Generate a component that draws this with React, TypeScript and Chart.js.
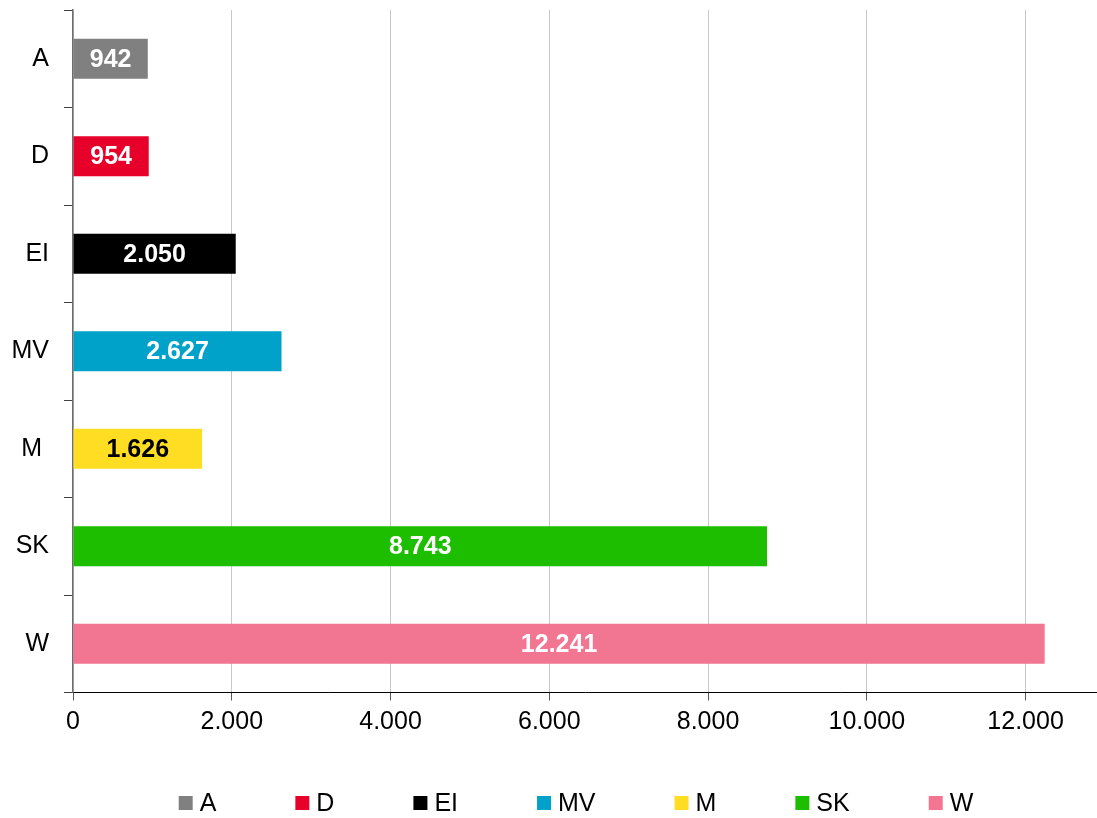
import React, { useEffect, useRef } from "react";
import { Chart, registerables } from "chart.js";

Chart.register(...registerables);

const categories = ["A", "D", "EI", "MV", "M ", "SK", "W"];
const legendLabels = ["A", "D", "EI", "MV", "M", "SK", "W"];
const values = [942, 954, 2050, 2627, 1626, 8743, 12241];
const barColors = ["#808080", "#E6002A", "#000000", "#00A2C9", "#FFDD22", "#1DBE00", "#F27591"];
const labelColors = ["#FFFFFF", "#FFFFFF", "#FFFFFF", "#FFFFFF", "#000000", "#FFFFFF", "#FFFFFF"];
const xTicks = [0, 2000, 4000, 6000, 8000, 10000, 12000];
const xMax = 12900;

const FONT = "'Liberation Sans', Arial, sans-serif";

function fmt(n: number): string {
  return String(Math.round(n)).replace(/\B(?=(\d{3})+(?!\d))/g, ".");
}

const dataLabelPlugin = {
  id: "dataLabels",
  afterDatasetsDraw(chart: any) {
    const ctx = chart.ctx;
    const meta = chart.getDatasetMeta(0);
    ctx.save();
    ctx.font = `bold 25px ${FONT}`;
    ctx.textAlign = "center";
    ctx.textBaseline = "middle";
    meta.data.forEach((bar: any, i: number) => {
      const cx = (bar.base + bar.x) / 2;
      ctx.fillStyle = labelColors[i];
      ctx.fillText(fmt(values[i]), cx, bar.y + 1);
    });
    ctx.restore();
  },
};

const legendPlugin = {
  id: "customLegend",
  afterDraw(chart: any) {
    const ctx = chart.ctx;
    ctx.save();
    ctx.font = `25px ${FONT}`;
    ctx.textBaseline = "middle";
    ctx.textAlign = "left";
    const box = 14;
    const boxGap = 7;
    const itemGap = 79;
    const widths = legendLabels.map((t) => box + boxGap + ctx.measureText(t).width);
    const total = widths.reduce((a, b) => a + b, 0) + itemGap * (widths.length - 1);
    const center = (chart.chartArea.left + chart.chartArea.right) / 2 - 9;
    let x = center - total / 2;
    const y = 803;
    legendLabels.forEach((t, i) => {
      ctx.fillStyle = barColors[i];
      ctx.fillRect(x, y - box / 2, box, box);
      ctx.fillStyle = "#000000";
      ctx.fillText(t, x + box + boxGap, y + 1);
      x += widths[i] + itemGap;
    });
    ctx.restore();
  },
};

export default function App() {
  const canvasRef = useRef<HTMLCanvasElement | null>(null);

  useEffect(() => {
    if (!canvasRef.current) return;
    const chart = new Chart(canvasRef.current, {
      type: "bar",
      data: {
        labels: categories,
        datasets: [
          {
            data: values,
            backgroundColor: barColors,
            borderWidth: 0,
            barPercentage: 0.41,
            categoryPercentage: 1,
          },
        ],
      },
      options: {
        indexAxis: "y",
        animation: false,
        responsive: true,
        maintainAspectRatio: false,
        layout: { padding: { left: 0, right: 0, top: 10, bottom: 80.5 } },
        plugins: {
          legend: { display: false },
          tooltip: { enabled: false },
        },
        scales: {
          x: {
            type: "linear",
            min: 0,
            max: xMax,
            afterBuildTicks: (axis: any) => {
              axis.ticks = xTicks.map((v) => ({ value: v }));
            },
            afterFit: (axis: any) => {
              axis.height = 45;
              axis.paddingLeft = 0;
              axis.paddingRight = 0;
            },
            ticks: {
              color: "#000000",
              font: { family: FONT, size: 25 },
              padding: 7,
              maxRotation: 0,
              callback: (v: any) => fmt(Number(v)),
            },
            grid: {
              display: true,
              drawOnChartArea: true,
              color: "#C8C8C8",
              lineWidth: 1,
              tickLength: 8,
              tickColor: "#595959",
            },
            border: { display: true, color: "#000000", width: 1 },
          },
          y: {
            afterFit: (axis: any) => {
              axis.width = 73;
              axis.paddingTop = 0;
              axis.paddingBottom = 0;
            },
            ticks: {
              color: "#000000",
              font: { family: FONT, size: 25 },
              padding: 15,
            },
            grid: {
              display: true,
              drawOnChartArea: false,
              offset: true,
              tickLength: 9,
              tickColor: "#404040",
              lineWidth: 1,
            },
            border: { display: true, color: "#6E6E6E", width: 1.5 },
          },
        },
      },
      plugins: [dataLabelPlugin, legendPlugin],
    });
    return () => chart.destroy();
  }, []);

  return (
    <div style={{ position: "absolute", left: 0, top: 0, width: 1097, height: 818, background: "#ffffff" }}>
      <canvas ref={canvasRef} />
    </div>
  );
}
